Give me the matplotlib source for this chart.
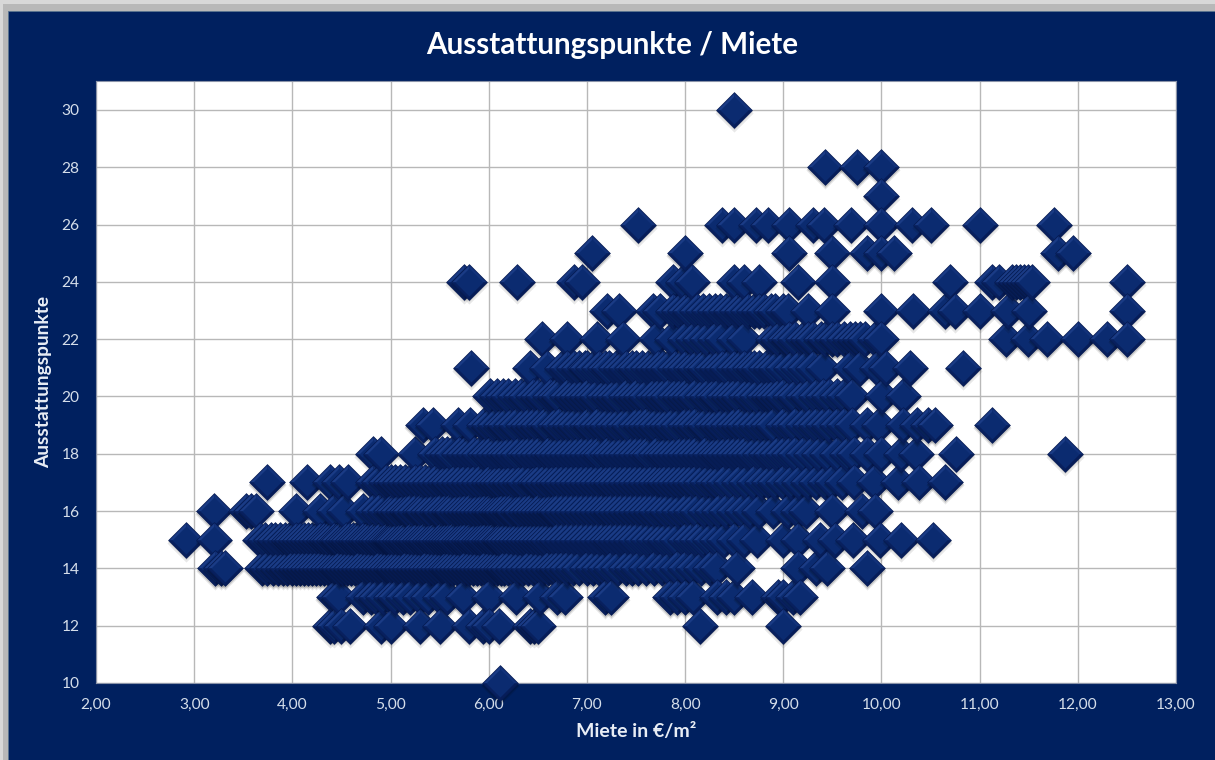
import numpy as np
import matplotlib
matplotlib.use("Agg")
import matplotlib.pyplot as plt
import matplotlib.transforms as mtrans
from matplotlib.patches import Rectangle

plt.rcParams['font.family'] = ['Lato', 'DejaVu Sans']

title = "Ausstattungspunkte / Miete"
xlabel = "Miete in €/m²"
ylabel = "Ausstattungspunkte"
xticks = [2, 3, 4, 5, 6, 7, 8, 9, 10, 11, 12, 13]
yticks = [10, 12, 14, 16, 18, 20, 22, 24, 26, 28, 30]

# rent values per row of equipment points
row30 = [8.5]
row28 = [9.43, 9.75, 10.0]
row27 = [10.0]
row26 = [7.52, 8.38, 8.5, 8.72, 8.84, 9.06, 9.3, 9.41, 9.69, 10.0, 10.31, 10.5, 11.0, 11.76]
row25 = [7.05, 8.0, 9.06, 9.5, 9.85, 10.0, 10.13, 11.8, 11.95]
row24 = [5.75, 5.8, 6.29, 6.87, 6.95, 7.88, 7.98, 8.07, 8.5, 8.6, 8.75, 9.15, 9.5, 10.7, 11.13, 11.2,
         11.33, 11.37, 11.41, 11.45, 11.49, 11.53, 12.5]
row23 = [7.2, 7.33, 7.67, 7.74, 7.88, 7.94, 8.0, 8.05, 8.12, 8.18, 8.24, 8.3, 8.36, 8.42, 8.47, 8.53,
         8.58, 8.64, 8.7, 8.75, 8.8, 8.87, 8.92, 9.0, 9.05, 9.25, 9.5, 10.0, 10.32, 10.65, 10.75, 11.0,
         11.29, 11.5, 12.5]
row22 = [6.54, 6.8, 7.1, 7.37, 7.7, 7.87, 8.0, 8.08, 8.15, 8.22, 8.3, 8.38, 8.5, 8.6, 8.9, 8.95, 9.02,
         9.06, 9.12, 9.2, 9.25, 9.3, 9.38, 9.42, 9.5, 9.55, 9.62, 9.68, 9.73, 9.78, 9.83, 9.93, 10.0,
         11.27, 11.49, 11.69, 12.0, 12.3, 12.5]
row21 = [5.82, 6.42, 6.59, 6.75, 6.8, 6.87, 6.92, 6.98, 7.0, 7.06, 7.12, 7.18, 7.23, 7.3, 7.35, 7.4,
         7.46, 7.5, 7.56, 7.62, 7.67, 7.72, 7.78, 7.83, 7.9, 7.95, 8.0, 8.06, 8.1, 8.16, 8.2, 8.27, 8.32,
         8.38, 8.43, 8.5, 8.55, 8.6, 8.66, 8.7, 8.75, 8.82, 8.88, 8.93, 9.0, 9.08, 9.15, 9.22, 9.3, 9.4,
         9.68, 9.78, 9.95, 10.05, 10.29, 10.83]
row20 = [6.01, 6.08, 6.15, 6.2, 6.27, 6.33, 6.38, 6.45, 6.5, 6.55, 6.62, 6.67, 6.72, 6.8, 6.85, 6.9,
         6.95, 7.0, 7.05, 7.1, 7.17, 7.22, 7.28, 7.33, 7.4, 7.45, 7.5, 7.55, 7.6, 7.67, 7.72, 7.78, 7.83,
         7.9, 7.95, 8.0, 8.05, 8.1, 8.17, 8.22, 8.28, 8.33, 8.4, 8.45, 8.5, 8.55, 8.62, 8.67, 8.73, 8.8,
         8.85, 8.9, 8.95, 9.0, 9.07, 9.12, 9.2, 9.25, 9.33, 9.4, 9.47, 9.55, 9.62, 9.7, 10.01, 10.22]
row19 = [5.33, 5.43, 5.69, 5.81, 5.95, 6.0, 6.06, 6.12, 6.17, 6.23, 6.28, 6.35, 6.4, 6.45, 6.5, 6.56,
         6.6, 6.67, 6.72, 6.78, 6.83, 6.88, 6.94, 7.0, 7.04, 7.1, 7.15, 7.2, 7.27, 7.32, 7.38, 7.43, 7.5,
         7.55, 7.6, 7.65, 7.7, 7.76, 7.82, 7.87, 7.93, 8.0, 8.05, 8.1, 8.16, 8.2, 8.27, 8.32, 8.38, 8.44,
         8.5, 8.55, 8.6, 8.66, 8.72, 8.78, 8.84, 8.9, 9.0, 9.06, 9.12, 9.2, 9.27, 9.33, 9.4, 9.47, 9.55,
         9.62, 9.7, 9.85, 9.98, 10.22, 10.36, 10.47, 10.55, 11.13]
row18 = [4.82, 4.9, 5.25, 5.45, 5.52, 5.58, 5.63, 5.7, 5.75, 5.8, 5.85, 5.9, 5.96, 6.0, 6.05, 6.1,
         6.16, 6.2, 6.25, 6.3, 6.36, 6.4, 6.45, 6.5, 6.55, 6.6, 6.64, 6.7, 6.75, 6.8, 6.85, 6.9, 6.95, 7.0,
         7.05, 7.1, 7.14, 7.2, 7.25, 7.3, 7.35, 7.4, 7.45, 7.5, 7.55, 7.6, 7.64, 7.7, 7.75, 7.8, 7.85, 7.9,
         7.95, 8.0, 8.05, 8.1, 8.15, 8.2, 8.25, 8.3, 8.35, 8.4, 8.45, 8.5, 8.55, 8.6, 8.65, 8.7, 8.76, 8.82,
         8.88, 8.94, 9.0, 9.06, 9.12, 9.2, 9.28, 9.36, 9.45, 9.55, 9.65, 9.72, 9.85, 10.0, 10.2, 10.35,
         10.76, 11.87]
row17 = [3.74, 4.15, 4.38, 4.48, 4.57, 4.82, 4.88, 4.95, 5.0, 5.05, 5.1, 5.15, 5.2, 5.25, 5.3, 5.35,
         5.4, 5.45, 5.5, 5.55, 5.6, 5.65, 5.7, 5.75, 5.8, 5.85, 5.9, 5.95, 6.0, 6.04, 6.08, 6.12, 6.18,
         6.22, 6.27, 6.32, 6.36, 6.42, 6.47, 6.5, 6.55, 6.6, 6.65, 6.7, 6.75, 6.8, 6.85, 6.9, 6.95, 7.0,
         7.05, 7.1, 7.15, 7.2, 7.25, 7.3, 7.35, 7.4, 7.45, 7.5, 7.55, 7.6, 7.65, 7.7, 7.75, 7.8, 7.85, 7.9,
         7.95, 8.0, 8.05, 8.1, 8.16, 8.22, 8.28, 8.34, 8.4, 8.47, 8.55, 8.62, 8.7, 8.78, 8.85, 8.92, 9.0,
         9.08, 9.16, 9.25, 9.33, 9.42, 9.5, 9.6, 9.72, 9.92, 10.17, 10.38, 10.65]
row16 = [3.2, 3.53, 3.58, 3.63, 4.04, 4.28, 4.42, 4.53, 4.72, 4.82, 4.88, 4.94, 5.0, 5.04, 5.08, 5.13,
         5.17, 5.2, 5.25, 5.3, 5.33, 5.38, 5.42, 5.47, 5.5, 5.55, 5.6, 5.63, 5.68, 5.72, 5.76, 5.8, 5.84,
         5.88, 5.92, 5.96, 6.0, 6.03, 6.07, 6.1, 6.14, 6.18, 6.22, 6.25, 6.3, 6.33, 6.38, 6.42, 6.46, 6.5,
         6.54, 6.58, 6.62, 6.66, 6.7, 6.75, 6.8, 6.85, 6.9, 6.95, 7.0, 7.05, 7.1, 7.15, 7.2, 7.25, 7.3, 7.35,
         7.4, 7.45, 7.5, 7.55, 7.6, 7.65, 7.7, 7.76, 7.82, 7.88, 7.94, 8.0, 8.06, 8.12, 8.2, 8.27, 8.35,
         8.42, 8.5, 8.58, 8.66, 8.75, 8.9, 9.05, 9.15, 9.23, 9.5, 9.8, 9.93]
row15 = [2.92, 3.2, 3.67, 3.72, 3.78, 3.82, 3.87, 3.92, 3.97, 4.0, 4.04, 4.08, 4.12, 4.16, 4.2, 4.24,
         4.28, 4.32, 4.35, 4.38, 4.42, 4.45, 4.48, 4.52, 4.55, 4.58, 4.62, 4.65, 4.68, 4.72, 4.75, 4.78,
         4.82, 4.85, 4.88, 4.92, 4.95, 4.98, 5.0, 5.03, 5.06, 5.1, 5.13, 5.16, 5.2, 5.23, 5.26, 5.3, 5.33,
         5.36, 5.4, 5.43, 5.46, 5.5, 5.53, 5.56, 5.6, 5.63, 5.66, 5.7, 5.73, 5.76, 5.8, 5.83, 5.86, 5.9,
         5.93, 5.96, 6.0, 6.03, 6.06, 6.1, 6.13, 6.16, 6.2, 6.24, 6.28, 6.32, 6.36, 6.4, 6.44, 6.48, 6.52,
         6.56, 6.6, 6.65, 6.7, 6.75, 6.8, 6.85, 6.9, 6.95, 7.0, 7.05, 7.1, 7.15, 7.2, 7.25, 7.3, 7.35, 7.4,
         7.45, 7.5, 7.56, 7.62, 7.68, 7.74, 7.8, 7.86, 7.92, 8.0, 8.06, 8.12, 8.18, 8.25, 8.32, 8.4, 8.5,
         8.6, 8.73, 9.0, 9.15, 9.37, 9.53, 9.71, 9.99, 10.2, 10.53]
row14 = [3.21, 3.27, 3.31, 3.69, 3.74, 3.8, 3.85, 3.9, 3.95, 4.0, 4.04, 4.08, 4.12, 4.16, 4.2, 4.24,
         4.28, 4.32, 4.36, 4.4, 4.44, 4.48, 4.52, 4.56, 4.6, 4.64, 4.68, 4.72, 4.76, 4.8, 4.84, 4.88, 4.92,
         4.96, 5.0, 5.04, 5.08, 5.12, 5.16, 5.2, 5.24, 5.28, 5.32, 5.36, 5.4, 5.44, 5.48, 5.52, 5.56, 5.6,
         5.64, 5.68, 5.72, 5.76, 5.8, 5.84, 5.88, 5.92, 5.96, 6.0, 6.04, 6.08, 6.12, 6.16, 6.2, 6.25, 6.3,
         6.35, 6.4, 6.45, 6.5, 6.55, 6.6, 6.65, 6.7, 6.75, 6.8, 6.86, 6.92, 7.0, 7.06, 7.12, 7.18, 7.25,
         7.32, 7.4, 7.46, 7.52, 7.6, 7.68, 7.76, 7.84, 7.92, 8.0, 8.08, 8.16, 8.25, 8.33, 8.53, 9.15, 9.33,
         9.45, 9.85]
row13 = [4.42, 4.47, 4.72, 4.8, 4.85, 4.92, 5.0, 5.05, 5.13, 5.2, 5.3, 5.38, 5.5, 5.58, 5.74, 6.0, 6.28,
         6.52, 6.7, 6.78, 7.18, 7.25, 7.85, 7.92, 8.0, 8.08, 8.33, 8.42, 8.5, 8.68, 8.95, 9.0, 9.1, 9.17]
row12 = [4.38, 4.42, 4.5, 4.59, 4.9, 5.0, 5.3, 5.5, 5.8, 5.94, 6.0, 6.1, 6.42, 6.46, 6.5, 8.15, 9.0]
row10 = [6.11]

rows = {30: row30, 28: row28, 27: row27, 26: row26, 25: row25, 24: row24, 23: row23, 22: row22,
        21: row21, 20: row20, 19: row19, 18: row18, 17: row17, 16: row16, 15: row15, 14: row14,
        13: row13, 12: row12, 10: row10}

navy = '#00205f'

fig = plt.figure(figsize=(12.15, 7.6), dpi=100, facecolor='#b8b8b8')
# grey frame at the top and left, then the navy card
fig.patches.append(Rectangle((0, 1 - 4 / 760), 1, 4 / 760, transform=fig.transFigure, fc='#d8d8d8', ec='none', zorder=-2))
fig.patches.append(Rectangle((0, 0), 3 / 1215, 1, transform=fig.transFigure, fc='#d8d8d8', ec='none', zorder=-2))
fig.patches.append(Rectangle((7.5 / 1215, 0), 1, 1 - 11 / 760, transform=fig.transFigure, fc=navy, ec='#5a7590', lw=0.6, zorder=-1))

ax = fig.add_axes([96 / 1215, 77 / 760, 1080 / 1215, 602 / 760])
ax.set_xlim(2, 13)
ax.set_ylim(10, 31.01)
ax.set_facecolor('white')
ax.set_xticks(xticks)
ax.set_yticks(yticks)
ax.set_xticklabels(['%d,00' % v for v in xticks])
ax.grid(True, color='#b8b8b8', lw=1.0)
ax.set_axisbelow(True)
ax.tick_params(length=0, colors='#d5deea', labelsize=11.2)
ax.tick_params(axis='x', pad=11)
ax.tick_params(axis='y', pad=12)
for s in ax.spines.values():
    s.set_color('#8a93a8')
    s.set_linewidth(0.8)

# bevelled diamond = shadow, dark rim, four facets, flat centre
tl = [(-1, 0), (0, 1), (0, 0)]
tr = [(0, 1), (1, 0), (0, 0)]
br = [(1, 0), (0, -1), (0, 0)]
bl = [(0, -1), (-1, 0), (0, 0)]
diamond = [(-1, 0), (0, 1), (1, 0), (0, -1)]
ms = 26.5

shadow1 = mtrans.offset_copy(ax.transData, fig=fig, x=0, y=-3, units='dots')
shadow2 = mtrans.offset_copy(ax.transData, fig=fig, x=0, y=-1.5, units='dots')

xs = []
ys = []
for y in rows:
    for x in rows[y]:
        xs.append(x)
        ys.append(y)
xs = np.array(xs)
ys = np.array(ys)
order = np.argsort(xs, kind='stable')


def mark(x, y, verts, size, color, alpha=1, transform=None):
    ax.plot([x], [y], linestyle='none', marker=verts, markersize=size, markerfacecolor=color,
            markeredgewidth=0, alpha=alpha, clip_on=False, zorder=3,
            transform=ax.transData if transform is None else transform)


for i in order:
    x = xs[i]
    y = ys[i]
    mark(x, y, diamond, ms + 1, 'black', 0.09, shadow1)
    mark(x, y, diamond, ms, 'black', 0.15, shadow2)
    mark(x, y, diamond, ms, '#061b54')
    mark(x, y, tl, ms - 1.6, '#1a3b85')
    mark(x, y, tr, ms - 1.6, '#12327a')
    mark(x, y, br, ms - 1.6, '#061d59')
    mark(x, y, bl, ms - 1.6, '#08205e')
    mark(x, y, diamond, ms * 0.76, '#0b2b70')

fig.text(612 / 1215, 1 - 45 / 760, title, color='white', fontsize=21.3, fontweight='bold', ha='center', va='center')
fig.text(636 / 1215, 1 - 731 / 760, xlabel, color='#e8edf5', fontsize=14, fontweight='bold', ha='center', va='center')
fig.text(44 / 1215, 1 - 382 / 760, ylabel, color='#e8edf5', fontsize=13.8, fontweight='bold', rotation=90,
         ha='center', va='center')

fig.savefig('out.png', dpi=100, facecolor=fig.get_facecolor())
